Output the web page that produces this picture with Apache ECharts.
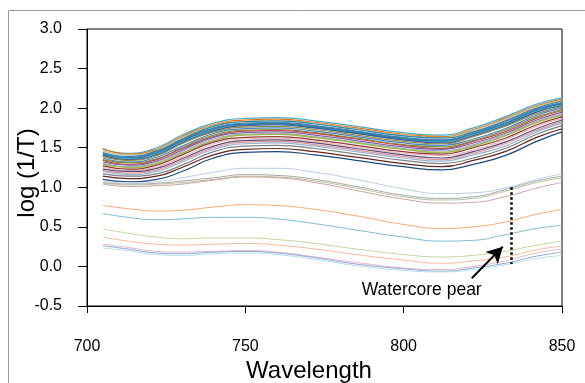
<!DOCTYPE html>
<html><head><meta charset="utf-8">
<script src="https://cdn.jsdelivr.net/npm/echarts@6/dist/echarts.min.js"></script>
<style>html,body{margin:0;padding:0;background:#fff}#c{width:585px;height:383px}</style>
</head><body><div id="c"></div>
<script>
const wavelengths = [705, 713, 722, 730, 740, 750, 760, 772, 785, 800, 812, 822, 832, 842, 850];
const xTicks = [700, 750, 800, 850];
const yTicks = [-0.5, 0.0, 0.5, 1.0, 1.5, 2.0, 2.5, 3.0];

// sound pears (upper band)
const h01 = [1.48,1.43,1.50,1.66,1.81,1.87,1.88,1.84,1.77,1.69,1.66,1.75,1.89,2.05,2.13];
const h02 = [1.49,1.42,1.48,1.64,1.79,1.85,1.86,1.82,1.75,1.67,1.64,1.73,1.87,2.03,2.11];
const h03 = [1.46,1.41,1.47,1.63,1.78,1.83,1.85,1.81,1.74,1.66,1.63,1.72,1.86,2.02,2.10];
const h04 = [1.44,1.39,1.46,1.61,1.77,1.83,1.84,1.80,1.73,1.65,1.62,1.70,1.84,2.00,2.09];
const h05 = [1.43,1.38,1.45,1.60,1.75,1.81,1.82,1.78,1.71,1.63,1.60,1.69,1.83,1.99,2.07];
const h06 = [1.42,1.37,1.44,1.59,1.74,1.80,1.81,1.77,1.70,1.62,1.59,1.68,1.81,1.98,2.06];
const h07 = [1.41,1.37,1.43,1.58,1.73,1.79,1.80,1.76,1.69,1.61,1.58,1.67,1.80,1.97,2.05];
const h08 = [1.40,1.36,1.42,1.57,1.72,1.78,1.79,1.75,1.68,1.60,1.57,1.66,1.79,1.96,2.04];
const h09 = [1.40,1.35,1.41,1.56,1.71,1.78,1.79,1.75,1.68,1.60,1.56,1.65,1.78,1.95,2.03];
const h10 = [1.39,1.34,1.40,1.55,1.70,1.76,1.77,1.73,1.66,1.58,1.55,1.64,1.77,1.93,2.02];
const h11 = [1.37,1.32,1.38,1.52,1.68,1.74,1.75,1.71,1.64,1.56,1.53,1.61,1.74,1.91,2.00];
const h12 = [1.35,1.31,1.36,1.50,1.66,1.72,1.73,1.69,1.62,1.54,1.51,1.59,1.72,1.89,1.98];
const h13 = [1.34,1.29,1.35,1.49,1.64,1.71,1.72,1.68,1.61,1.53,1.49,1.58,1.70,1.87,1.97];
const h14 = [1.32,1.28,1.33,1.47,1.63,1.69,1.70,1.66,1.59,1.51,1.48,1.56,1.68,1.85,1.95];
const h15 = [1.31,1.26,1.32,1.45,1.61,1.67,1.68,1.64,1.57,1.49,1.46,1.54,1.67,1.83,1.93];
const h16 = [1.29,1.25,1.30,1.43,1.59,1.66,1.67,1.63,1.56,1.48,1.44,1.52,1.65,1.82,1.91];
const h17 = [1.27,1.23,1.28,1.41,1.57,1.63,1.64,1.60,1.53,1.45,1.42,1.50,1.62,1.79,1.89];
const h18 = [1.25,1.21,1.26,1.38,1.55,1.61,1.62,1.58,1.51,1.43,1.40,1.47,1.60,1.77,1.87];
const h19 = [1.23,1.20,1.24,1.36,1.52,1.59,1.60,1.56,1.49,1.41,1.37,1.45,1.57,1.74,1.85];
const h20 = [1.21,1.18,1.22,1.34,1.50,1.57,1.58,1.54,1.47,1.39,1.35,1.43,1.55,1.72,1.83];
const h21 = [1.20,1.16,1.20,1.32,1.48,1.55,1.56,1.52,1.45,1.37,1.33,1.41,1.52,1.70,1.81];
const h22 = [1.17,1.14,1.17,1.28,1.45,1.52,1.53,1.49,1.42,1.34,1.30,1.37,1.49,1.67,1.78];
const h23 = [1.14,1.11,1.14,1.25,1.41,1.48,1.49,1.45,1.38,1.30,1.26,1.34,1.45,1.63,1.74];
const h24 = [1.10,1.07,1.10,1.20,1.37,1.44,1.45,1.41,1.34,1.26,1.22,1.29,1.40,1.58,1.70];
// intermediate band
const m01 = [1.08,1.05,1.07,1.12,1.19,1.24,1.24,1.19,1.10,0.98,0.92,0.93,0.99,1.10,1.17];
const m02 = [1.06,1.04,1.05,1.08,1.12,1.16,1.15,1.10,1.01,0.90,0.86,0.88,0.97,1.08,1.14];
const m03 = [1.05,1.03,1.04,1.06,1.10,1.14,1.13,1.08,0.99,0.88,0.84,0.86,0.95,1.06,1.12];
const m04 = [1.04,1.01,1.02,1.04,1.09,1.13,1.12,1.06,0.96,0.85,0.80,0.81,0.88,0.99,1.06];
// watercore pears (lower band)
const w01 = [0.77,0.73,0.70,0.71,0.75,0.78,0.77,0.72,0.64,0.53,0.48,0.50,0.56,0.66,0.72];
const w02 = [0.67,0.62,0.59,0.60,0.62,0.62,0.60,0.54,0.46,0.37,0.32,0.33,0.40,0.48,0.52];
const w03 = [0.47,0.42,0.37,0.35,0.36,0.36,0.34,0.29,0.22,0.15,0.12,0.14,0.19,0.27,0.32];
const w04 = [0.37,0.32,0.28,0.27,0.28,0.29,0.27,0.22,0.15,0.08,0.04,0.07,0.12,0.21,0.26];
const w05 = [0.28,0.24,0.19,0.18,0.19,0.20,0.18,0.12,0.05,-0.02,-0.04,0.00,0.07,0.17,0.22];
const w06 = [0.26,0.22,0.17,0.16,0.18,0.19,0.17,0.11,0.03,-0.03,-0.06,-0.02,0.04,0.13,0.18];
const w07 = [0.23,0.20,0.15,0.14,0.16,0.17,0.15,0.09,0.01,-0.05,-0.07,-0.04,0.02,0.10,0.14];

const spectra = [
  [h01,'#4BACC6'],[h02,'#E46C0A'],[h03,'#C4BD97'],[h04,'#31859C'],[h05,'#4F81BD'],
  [h06,'#31859C'],[h07,'#2E75B6'],[h08,'#4BACC6'],[h09,'#366092'],[h10,'#938953'],
  [h11,'#4F81BD'],[h12,'#77933C'],[h13,'#C0504D'],[h14,'#8064A2'],[h15,'#B3A2C7'],
  [h16,'#9BBB59'],[h17,'#953735'],[h18,'#E6B9B8'],[h19,'#604A7B'],[h20,'#D99694'],
  [h21,'#95B3D7'],[h22,'#7F7F7F'],[h23,'#632523'],[h24,'#1F497D'],
  [m01,'#B9CDE5'],[m02,'#A6A6A6'],[m03,'#B2C2A0'],[m04,'#C9A3A1'],
  [w01,'#F4A977'],[w02,'#7FB9D0'],[w03,'#C3D69B'],[w04,'#F8B89A'],
  [w05,'#E3B5C4'],[w06,'#8EA9D6'],[w07,'#B7DEE8']
];

const series = spectra.map(([vals,color],i)=>({
  type:'line', data: wavelengths.map((w,k)=>[w, vals[k]]),
  showSymbol:false, smooth:0.5, silent:true,
  lineStyle:{width: (i===15?1.6:(i<24?1.2:1)), color}, z: 2
}));

series.push({
  type:'line', data:[], silent:true,
  markLine:{
    silent:true, animation:false,
    symbol:['none','none'],
    label:{show:false},
    data:[
      [{coord:[834,1.0], lineStyle:{type:[2.5,2.5],width:2.5,color:'#000'}},{coord:[834,0.03]}],
      [{coord:[821.5,-0.15], symbol:'none', lineStyle:{type:'solid',width:2,color:'#000'}},{coord:[831.3,0.25], symbol:'arrow', symbolSize:[13,16]}]
    ]
  },
  markPoint:{
    silent:true, symbol:'rect', symbolSize:0,
    data:[{coord:[805.7,-0.30], label:{show:true, formatter:'Watercore pear', color:'#000', fontSize:17.5, fontFamily:'Liberation Sans, Arial', position:'inside'}}]
  }
});

const chart = echarts.init(document.getElementById('c'), null, {renderer:'canvas'});
chart.setOption({
  animation:false,
  grid:{left:87, top:29, right:23, bottom:77, show:true, borderColor:'#000', borderWidth:1},
  xAxis:{
    type:'value', min:700, max:850, interval:50,
    axisLine:{onZero:false, lineStyle:{color:'#000',width:1}},
    axisTick:{show:true, length:7, lineStyle:{color:'#000'}},
    axisLabel:{margin:33, color:'#000', fontSize:16, fontFamily:'Liberation Sans, Arial',
      formatter:v=> xTicks.includes(v)? String(v):''},
    splitLine:{show:false}
  },
  yAxis:{
    type:'value', min:-0.5, max:3.0, interval:0.5,
    axisLine:{show:true, onZero:false, lineStyle:{color:'#000',width:1}},
    axisTick:{show:true, length:9, lineStyle:{color:'#000'}},
    axisLabel:{margin:25, color:'#000', fontSize:16, fontFamily:'Liberation Sans, Arial',
      formatter:v=> yTicks.some(t=>Math.abs(t-v)<1e-9)? v.toFixed(1):''},
    splitLine:{show:false}
  },
  graphic:[
    {type:'rect', shape:{x:8.5,y:10.5,width:700,height:500}, style:{fill:'none', stroke:'#9a9a9a', lineWidth:1}, silent:true},
    {type:'text', x:309, y:371, style:{text:'Wavelength', fontSize:24, fontFamily:'Liberation Sans, Arial', fill:'#000', align:'center', verticalAlign:'middle'}},
    {type:'text', x:27, y:173, rotation:Math.PI/2, style:{text:'log (1/T)', fontSize:24, fontFamily:'Liberation Sans, Arial', fill:'#000', align:'center', verticalAlign:'middle'}}
  ],
  series
});
</script></body></html>
